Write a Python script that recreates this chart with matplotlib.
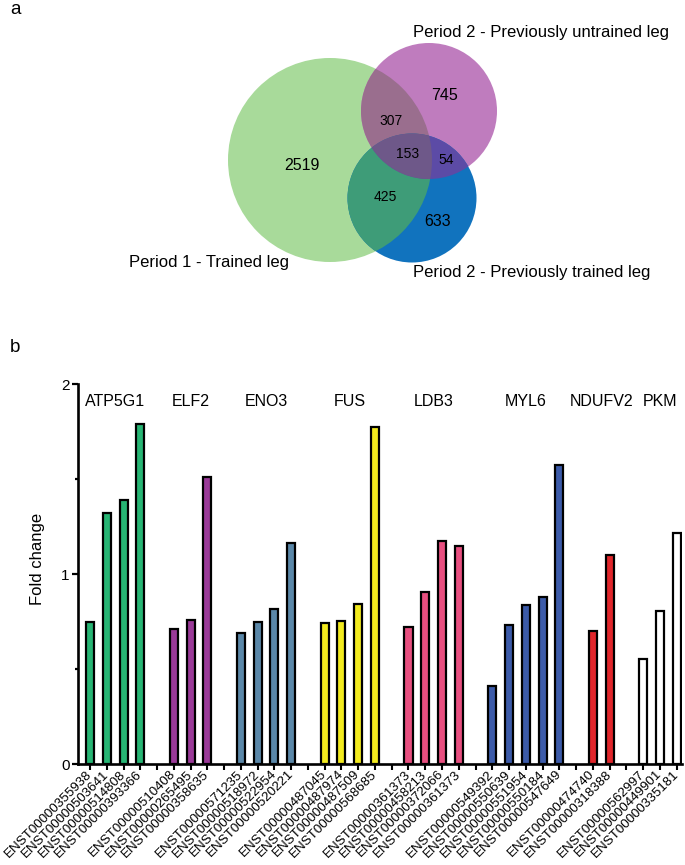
import numpy as np
import matplotlib
matplotlib.use("Agg")
import matplotlib.pyplot as plt
from matplotlib.patches import Circle, Polygon

plt.rcParams['font.family'] = ['Liberation Sans', 'DejaVu Sans']

# ---------------- data ----------------
set_names = ['Period 1 - Trained leg',
             'Period 2 - Previously untrained leg',
             'Period 2 - Previously trained leg']
only_counts = [2519, 745, 633]          # green only, purple only, blue only
pair_counts = [307, 425, 54]            # G&P, G&B, P&B
triple_count = 153

genes = ['ATP5G1', 'ELF2', 'ENO3', 'FUS', 'LDB3', 'MYL6', 'NDUFV2', 'PKM']
transcripts = [
    ['ENST00000355938', 'ENST00000503641', 'ENST00000514808', 'ENST00000393366'],
    ['ENST00000510408', 'ENST00000265495', 'ENST00000358635'],
    ['ENST00000571235', 'ENST00000518972', 'ENST00000522954', 'ENST00000520221'],
    ['ENST00000487045', 'ENST00000487974', 'ENST00000487509', 'ENST00000568685'],
    ['ENST00000361373', 'ENST00000458213', 'ENST00000372066', 'ENST00000361373'],
    ['ENST00000549392', 'ENST00000550639', 'ENST00000551954', 'ENST00000550184', 'ENST00000547649'],
    ['ENST00000474740', 'ENST00000318388'],
    ['ENST00000562997', 'ENST00000449901', 'ENST00000335181'],
]
fold_change = [
    [0.75, 1.32, 1.39, 1.79],
    [0.71, 0.76, 1.51],
    [0.69, 0.75, 0.815, 1.165],
    [0.74, 0.755, 0.84, 1.775],
    [0.72, 0.905, 1.175, 1.145],
    [0.41, 0.73, 0.835, 0.88, 1.575],
    [0.70, 1.10],
    [0.555, 0.805, 1.215],
]
gene_colors = ['#27B574', '#9A3A98', '#5A87A8', '#F2EA1E',
               '#E84F80', '#3C5BA9', '#E0262B', '#FFFFFF']

# ---------------- figure ----------------
W, H = 685, 865
fig = plt.figure(figsize=(W / 100, H / 100), dpi=100)

# ---- panel a: Venn (pixel coordinate axes) ----
ax0 = fig.add_axes([0, 0, 1, 1])
ax0.set_xlim(0, W)
ax0.set_ylim(H, 0)
ax0.axis('off')

cG = (330, 160); rG = 102
cP = (429, 111); rP = 68
cB = (412, 198); rB = 64.5

colG, colP, colB = '#A8DA9A', '#BF7CBE', '#1173BE'
colGP, colGB, colPB, colGPB = '#9A6E8E', '#3E9C78', '#5C4BA6', '#6E5889'


def circ(c, r, color, z):
    p = Circle(c, r, facecolor=color, edgecolor='none', zorder=z,
               transform=ax0.transData)
    return p


def lens(c1, r1, c2, r2, n=1440):
    def arc(ca, ra, cb, rb):
        t = np.linspace(0, 2 * np.pi, n, endpoint=False)
        x = ca[0] + ra * np.cos(t)
        y = ca[1] + ra * np.sin(t)
        inside = (x - cb[0]) ** 2 + (y - cb[1]) ** 2 <= rb ** 2
        k = int(np.argmax(~inside))
        x, y, inside = np.roll(x, -k), np.roll(y, -k), np.roll(inside, -k)
        return np.column_stack([x[inside], y[inside]])
    return np.vstack([arc(c1, r1, c2, r2), arc(c2, r2, c1, r1)])


ax0.add_patch(circ(cG, rG, colG, 1))
ax0.add_patch(circ(cP, rP, colP, 1))
ax0.add_patch(circ(cB, rB, colB, 1))

clipG = Circle(cG, rG, transform=ax0.transData)
clipP = Circle(cP, rP, transform=ax0.transData)

p = ax0.add_patch(circ(cP, rP, colGP, 2)); p.set_clip_path(clipG)
p = ax0.add_patch(circ(cB, rB, colGB, 2)); p.set_clip_path(clipG)
p = ax0.add_patch(circ(cB, rB, colPB, 2)); p.set_clip_path(clipP)
lp = Polygon(lens(cP, rP, cB, rB), closed=True, facecolor=colGPB,
             edgecolor='none', zorder=3, transform=ax0.transData)
ax0.add_patch(lp)
lp.set_clip_path(clipG)

big = 11.5
small = 10
ax0.text(302, 166, str(only_counts[0]), fontsize=big, ha='center', va='center', zorder=5)
ax0.text(445, 96, str(only_counts[1]), fontsize=big, ha='center', va='center', zorder=5)
ax0.text(438, 222, str(only_counts[2]), fontsize=big, ha='center', va='center', zorder=5)
ax0.text(391, 121, str(pair_counts[0]), fontsize=small, ha='center', va='center', zorder=5)
ax0.text(385, 197, str(pair_counts[1]), fontsize=small, ha='center', va='center', zorder=5)
ax0.text(446, 160, str(pair_counts[2]), fontsize=small, ha='center', va='center', zorder=5)
ax0.text(408, 154, str(triple_count), fontsize=small, ha='center', va='center', zorder=5)

ax0.text(129, 262, set_names[0], fontsize=12, ha='left', va='center')
ax0.text(413, 33, set_names[1], fontsize=12, ha='left', va='center')
ax0.text(413, 272, set_names[2], fontsize=12, ha='left', va='center')

ax0.text(10, 10, 'a', fontsize=13.5, ha='left', va='center')
ax0.text(10, 348, 'b', fontsize=13.5, ha='left', va='center')

# ---- panel b: bar chart ----
x0, x1 = 78, 682
y0, y2 = 764, 384
ax = fig.add_axes([x0 / W, 1 - y0 / H, (x1 - x0) / W, (y0 - y2) / H])

xs, hs, cs = [], [], []
tick_pos, tick_lab = [], []
centers = []
slot = 0
for g, (tr, fc, col) in enumerate(zip(transcripts, fold_change, gene_colors)):
    start = slot
    for t, v in zip(tr, fc):
        xs.append(slot); hs.append(v); cs.append(col)
        tick_pos.append(slot); tick_lab.append(t)
        slot += 1
    centers.append((start + slot - 1) / 2)
    if g < len(transcripts) - 1:
        tick_pos.append(slot); tick_lab.append('')
        slot += 1

ax.bar(xs, hs, width=0.48, color=cs, edgecolor='black', linewidth=1.6, zorder=3)

for gname, cx in zip(genes, centers):
    ax.text(cx, 1.91, gname, fontsize=11.5, ha='center', va='center')

ax.set_xlim(-0.72, 35.32)
ax.set_ylim(0, 2)
for s in ['top', 'right']:
    ax.spines[s].set_visible(False)
for s in ['left', 'bottom']:
    ax.spines[s].set_linewidth(1.9)

ax.set_yticks([0, 1, 2])
ax.set_yticklabels(['0', '1', '2'], fontsize=11)
ax.set_yticks([0.5, 1.5], minor=True)
ax.tick_params(axis='y', which='major', length=4, width=1.6, pad=2)
ax.tick_params(axis='y', which='minor', length=2.5, width=1.6)
ax.set_xticks(tick_pos)
ax.set_xticklabels(tick_lab, rotation=45, ha='right', va='center',
                   rotation_mode='anchor', fontsize=9.6)
ax.tick_params(axis='x', which='major', length=4, width=1.5, pad=2)
ax.set_ylabel('Fold change', fontsize=12)
ax.yaxis.set_label_coords(-0.054, 0.54)
ax.patch.set_alpha(0)

fig.savefig('out.png', dpi=100)
